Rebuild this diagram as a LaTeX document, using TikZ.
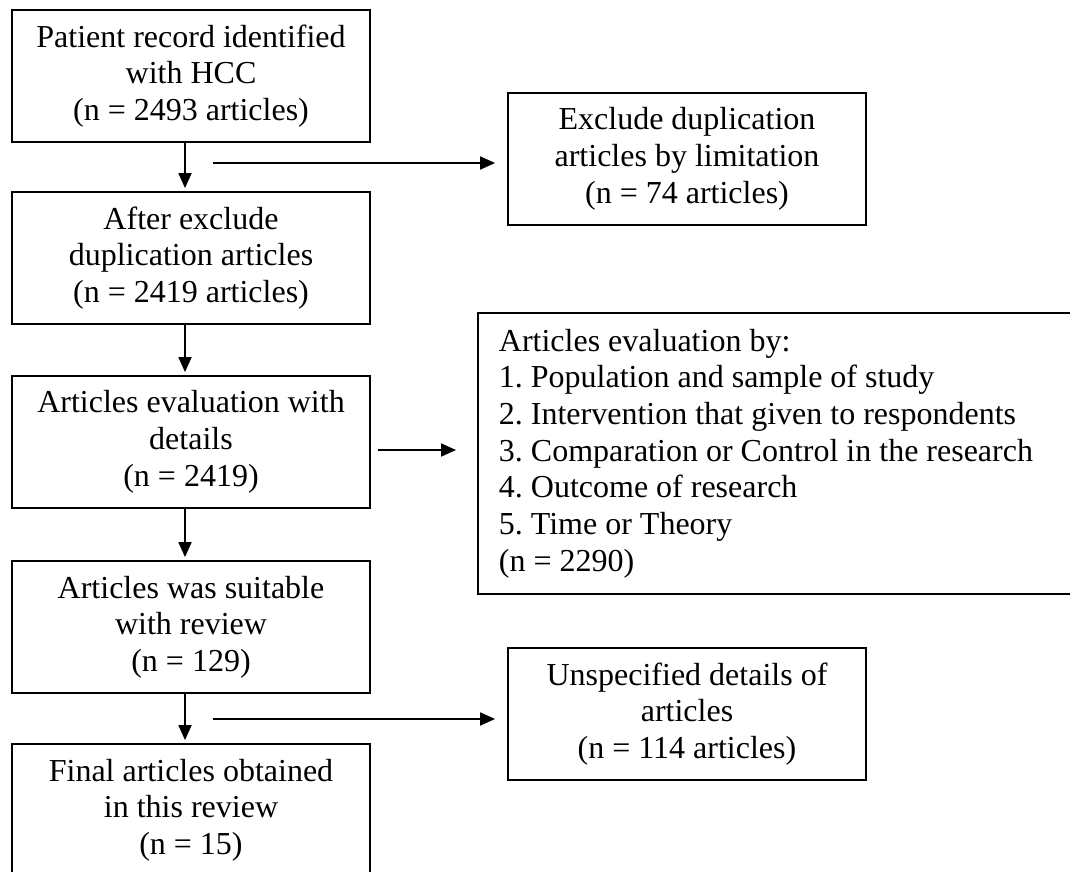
\documentclass[tikz,border=0pt]{standalone}
\usepackage{fontspec}
\setmainfont{Liberation Serif}
\usetikzlibrary{positioning, arrows.meta}
\frenchspacing

\begin{document}
\begin{tikzpicture}[x=1pt, y=-1pt, every node/.style={draw, line width=1.8pt, font=\fontsize{32}{36.7}\selectfont, align=center, minimum width=358pt, minimum height=132pt, inner sep=0pt}, note/.style={align=flush left, text width=556pt, inner xsep=21pt, minimum height=281pt}, arr/.style={-{Triangle[length=15pt, width=13pt]}, line width=1.8pt}]
\useasboundingbox (0,0) rectangle (1070,872);
\clip (0,0) rectangle (1070,872);
% main column
\foreach \n/\y/\t in {1/76/{Patient record identified\\with HCC\\(n = 2493 articles)}, 2/258/{After exclude\\duplication articles\\(n = 2419 articles)}, 3/442/{Articles evaluation with\\details\\(n = 2419)}, 4/627/{Articles was suitable\\with review\\(n = 129)}, 5/810/{Final articles obtained\\in this review\\(n = 15)}}
	\node (b\n) at (191,\y) {\t};
\foreach \a/\b in {1/2, 2/3, 3/4, 4/5}
	\draw[arr, shorten >=3pt] ([xshift=-6pt]b\a.south) -- ([xshift=-6pt]b\b.north);
% side boxes
\node (ex) at (687,159) {Exclude duplication\\articles by limitation\\(n = 74 articles)};
\node[note, anchor=west] (ev) at (477,453.5) {Articles evaluation by:\\1. Population and sample of study\\2. Intervention that given to respondents\\3. Comparation or Control in the research\\4. Outcome of research\\5. Time or Theory\\(n = 2290)};
\node (un) at (687,714) {Unspecified details of\\articles\\(n = 114 articles)};
\coordinate (h1) at (213,163);
\coordinate (h2) at (378,450);
\coordinate (h3) at (213,719);
\draw[arr, shorten >=12pt] (h1) -- (h1 -| ex.west);
\draw[arr, shorten >=21pt] (h2) -- (h2 -| ev.west);
\draw[arr, shorten >=12pt] (h3) -- (h3 -| un.west);
\end{tikzpicture}
\end{document}
